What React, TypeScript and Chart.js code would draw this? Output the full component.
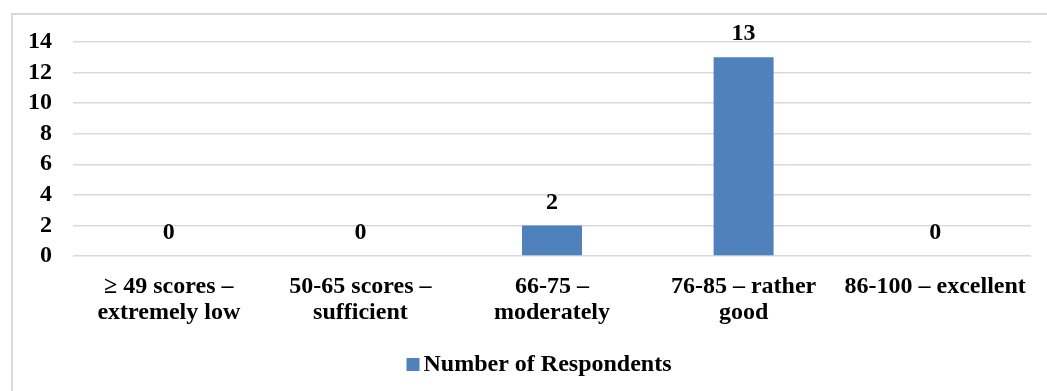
import React, { useEffect, useRef } from "react";
import { Chart, registerables } from "chart.js";

Chart.register(...registerables);

const categories: string[][] = [
  ["≥ 49 scores –", "extremely low"],
  ["50-65 scores –", "sufficient"],
  ["66-75 –", "moderately"],
  ["76-85 – rather", "good"],
  ["86-100 – excellent"],
];
const respondents: number[] = [0, 0, 2, 13, 0];
const seriesLabel = "Number of Respondents";
const yMin = 0;
const yMax = 14;
const yStep = 2;

const W = 1047;
const H = 391;
const FONT = '"Liberation Serif", "Times New Roman", serif';
const FS = 24;
const BAR_COLOR = "#4f81bd";
const GRID = "#d9d9d9";

const framePlugin = {
  id: "frame",
  beforeDraw(chart: any) {
    const ctx = chart.ctx;
    ctx.save();
    ctx.fillStyle = "#ffffff";
    ctx.fillRect(0, 0, chart.width, chart.height);
    ctx.strokeStyle = GRID;
    ctx.lineWidth = 2;
    ctx.beginPath();
    ctx.moveTo(12, chart.height + 2);
    ctx.lineTo(12, 14);
    ctx.lineTo(chart.width + 2, 14);
    ctx.stroke();
    ctx.restore();
  },
};

const valueLabelPlugin = {
  id: "valueLabels",
  afterDatasetsDraw(chart: any) {
    const ctx = chart.ctx;
    ctx.save();
    ctx.font = `bold ${FS}px ${FONT}`;
    ctx.fillStyle = "#000000";
    ctx.textAlign = "center";
    ctx.textBaseline = "middle";
    chart.data.datasets.forEach((ds: any, di: number) => {
      const meta = chart.getDatasetMeta(di);
      meta.data.forEach((bar: any, i: number) => {
        ctx.fillText(String(ds.data[i]), bar.x, bar.y - 23);
      });
    });
    ctx.restore();
  },
};

const legendPlugin = {
  id: "customLegend",
  afterDraw(chart: any) {
    const ctx = chart.ctx;
    const ds = chart.data.datasets[0];
    ctx.save();
    ctx.font = `bold ${FS}px ${FONT}`;
    const tw = ctx.measureText(ds.label).width;
    const box = 13;
    const gap = 4;
    const total = box + gap + tw;
    const cx = (chart.chartArea.left + chart.chartArea.right) / 2 - 13;
    const x0 = cx - total / 2;
    const yc = 364;
    ctx.fillStyle = ds.backgroundColor;
    ctx.fillRect(x0, yc - 6, box, box);
    ctx.fillStyle = "#000000";
    ctx.textAlign = "left";
    ctx.textBaseline = "middle";
    ctx.fillText(ds.label, x0 + box + gap, yc + 1);
    ctx.restore();
  },
};

export default function App() {
  const ref = useRef<HTMLCanvasElement | null>(null);

  useEffect(() => {
    if (!ref.current) return;
    const chart = new Chart(ref.current, {
      type: "bar",
      data: {
        labels: categories,
        datasets: [
          {
            label: seriesLabel,
            data: respondents,
            backgroundColor: BAR_COLOR,
            borderWidth: 0,
            categoryPercentage: 1,
            barPercentage: 0.313,
          },
        ],
      },
      options: {
        animation: false,
        responsive: false,
        maintainAspectRatio: false,
        layout: { padding: { top: 42, right: 16, left: 0, bottom: 0 } },
        plugins: {
          legend: { display: false },
          tooltip: { enabled: false },
        },
        scales: {
          x: {
            grid: { display: false, drawTicks: false },
            border: { display: false },
            ticks: {
              color: "#000000",
              padding: 18,
              maxRotation: 0,
              autoSkip: false,
              font: { family: FONT, size: FS, weight: "bold", lineHeight: "26px" },
            },
            afterFit(scale: any) {
              scale.height = 135;
            },
          },
          y: {
            min: yMin,
            max: yMax,
            grid: { color: GRID, lineWidth: 1.5, drawTicks: false },
            border: { display: false },
            ticks: {
              stepSize: yStep,
              autoSkip: false,
              color: "#000000",
              padding: 21,
              font: { family: FONT, size: FS, weight: "bold" },
            },
            afterFit(scale: any) {
              scale.width = 73;
            },
          },
        },
      },
      plugins: [framePlugin, valueLabelPlugin, legendPlugin],
    });
    return () => chart.destroy();
  }, []);

  return (
    <div
      style={{
        position: "fixed",
        left: 0,
        top: 0,
        width: W,
        height: H,
        background: "#ffffff",
      }}
    >
      <canvas ref={ref} width={W} height={H} style={{ display: "block" }} />
    </div>
  );
}
